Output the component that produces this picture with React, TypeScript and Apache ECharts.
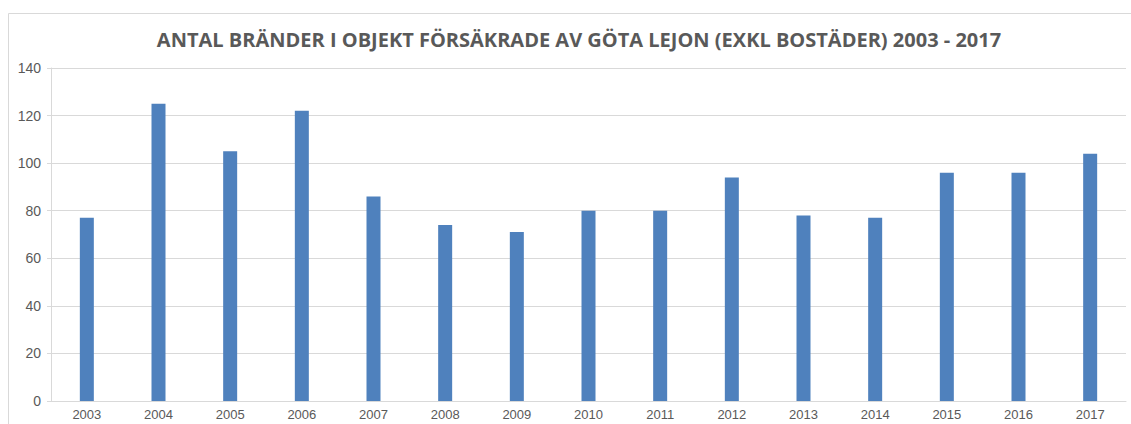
import React, { useEffect, useRef } from "react";
import * as echarts from "echarts";

const years = ["2003","2004","2005","2006","2007","2008","2009","2010","2011","2012","2013","2014","2015","2016","2017"];
const fires = [77,125,105,122,86,74,71,80,80,94,78,77,96,96,104];
const titleText = "ANTAL BRÄNDER I OBJEKT FÖRSÄKRADE AV GÖTA LEJON (EXKL BOSTÄDER) 2003 - 2017";

export default function App() {
  const ref = useRef<HTMLDivElement>(null);
  useEffect(() => {
    if (!ref.current) return;
    const chart = echarts.init(ref.current, null, { renderer: "svg" });
    chart.setOption({
      animation: false,
      backgroundColor: "#ffffff",
      title: {
        text: titleText,
        left: 574,
        top: 24,
        textAlign: "center",
        textStyle: { fontFamily: "Open Sans", fontWeight: 700, fontSize: 20, color: "#595959" },
      },
      graphic: [
        {
          type: "rect",
          shape: { x: 8.5, y: 13.5, width: 1130, height: 420 },
          style: { fill: "none", stroke: "#d9d9d9", lineWidth: 1 },
          silent: true,
        },
      ],
      grid: { left: 51, right: 5, top: 68, bottom: 23, containLabel: false },
      xAxis: {
        type: "category",
        data: years,
        axisLine: { show: true, lineStyle: { color: "#d9d9d9" } },
        axisTick: { show: false },
        axisLabel: { color: "#595959", fontFamily: "Liberation Sans", fontSize: 13, margin: 7 },
      },
      yAxis: {
        type: "value",
        min: 0,
        max: 140,
        interval: 20,
        axisLine: { show: true, lineStyle: { color: "#d9d9d9" } },
        axisTick: { show: true, length: 4, lineStyle: { color: "#d9d9d9" } },
        splitLine: { show: true, lineStyle: { color: "#d9d9d9" } },
        axisLabel: { color: "#595959", fontFamily: "Liberation Sans", fontSize: 14, margin: 10 },
      },
      series: [
        {
          type: "bar",
          data: fires,
          barWidth: 14,
          itemStyle: { color: "#4f81bd" },
        },
      ],
    });
    return () => chart.dispose();
  }, []);
  return (
    <div
      ref={ref}
      style={{ position: "fixed", left: 0, top: 0, width: 1131, height: 424 }}
    />
  );
}
